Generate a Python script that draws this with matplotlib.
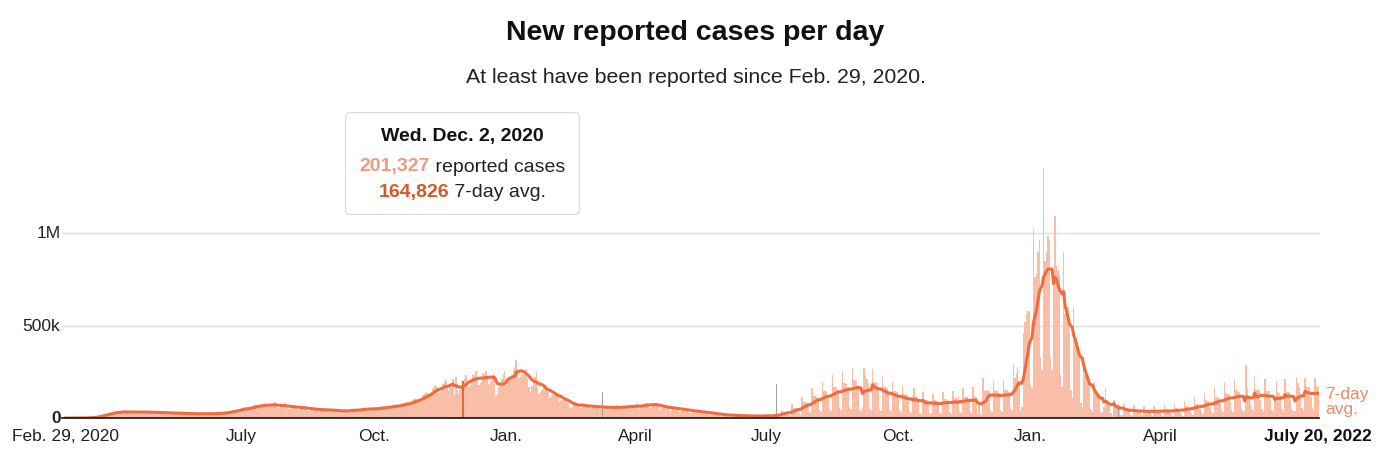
import matplotlib.pyplot as plt
import matplotlib.dates as mdates
from matplotlib.patches import FancyBboxPatch
import numpy as np
import pandas as pd

plt.rcParams['font.family'] = ['Liberation Sans', 'DejaVu Sans']

start_date = '2020-02-29'
# new reported cases per day, in thousands, one row per week (Sat .. Fri)
cases_by_week = [
    [0.0, 0.0, 0.0, 0.0, 0.0, 0.1, 0.1],
    [0.1, 0.1, 0.2, 0.3, 0.4, 0.4, 0.6],
    [1.0, 1.1, 1.6, 2.2, 3.0, 4.0, 4.6],
    [6, 8, 9.5, 10.5, 13, 17, 20],
    [22, 19, 21, 26, 29, 31, 34],
    [33, 26, 28, 33, 36, 37, 38],
    [32, 26, 26, 30, 35, 37, 38],
    [31, 27, 25, 31, 34, 38, 38],
    [31, 25, 25, 29, 34, 36, 37],
    [29, 23, 23, 28, 32, 33, 35],
    [27, 22, 22, 26, 30, 31, 31],
    [25, 20, 20, 24, 27, 29, 30],
    [24, 18, 18, 22, 25, 27, 27],
    [23, 18, 19, 22, 25, 27, 27],
    [23, 18, 18, 22, 26, 27, 27],
    [26, 21, 21, 25, 28, 30, 31],
    [33, 27, 29, 34, 39, 41, 42],
    [45, 38, 40, 46, 53, 56, 58],
    [50, 46, 48, 56, 63, 68, 75],
    [68, 54, 55, 64, 75, 78, 82],
    [72, 57, 57, 67, 78, 82, 84],
    [68, 53, 54, 64, 74, 77, 79],
    [60, 48, 48, 57, 66, 69, 72],
    [56, 44, 44, 52, 60, 63, 66],
    [48, 38, 39, 46, 53, 55, 57],
    [44, 35, 35, 42, 48, 51, 53],
    [42, 34, 34, 40, 46, 48, 50],
    [41, 31, 26, 32, 40, 45, 51],
    [41, 33, 33, 39, 45, 47, 49],
    [47, 38, 38, 45, 52, 54, 55],
    [49, 39, 39, 47, 54, 56, 59],
    [55, 44, 44, 52, 61, 63, 66],
    [62, 50, 50, 59, 68, 71, 74],
    [72, 58, 58, 68, 79, 83, 86],
    [86, 70, 70, 84, 97, 102, 107],
    [105, 88, 90, 106, 124, 130, 141],
    [135, 112, 118, 138, 160, 175, 177],
    [168, 135, 140, 160, 185, 196, 206],
    [180, 148, 165, 185, 210, 125, 219],
    [150, 128, 152, 178.455, 201.327, 215, 230],
    [205, 170, 180, 210, 235, 230, 254],
    [215, 180, 190, 200, 245, 240, 256],
    [225, 185, 195, 200, 235, 240, 120],
    [130, 165, 185, 210, 240, 255, 180],
    [215, 205, 210, 235, 262, 273, 315],
    [260, 215, 220, 235, 240, 245, 265],
    [210, 170, 140, 175, 200, 220, 250],
    [170, 130, 140, 150, 170, 170, 176],
    [140, 110, 115, 125, 135, 140, 131],
    [108, 88, 90, 95, 102, 108, 109],
    [80, 60, 55, 60, 75, 85, 89],
    [70, 52, 55, 65, 72, 72, 76],
    [65, 50, 52, 60, 66, 68, 73],
    [62, 45, 48, 57, 62, 63, 69],
    [60, 45, 47, 55, 62, 62, 68],
    [62, 46, 48, 58, 65, 66, 68],
    [68, 50, 52, 62, 70, 72, 74],
    [72, 45, 58, 70, 78, 80, 80],
    [75, 55, 60, 72, 80, 80, 82],
    [65, 45, 50, 60, 65, 68, 67],
    [55, 40, 43, 52, 58, 58, 58],
    [46, 33, 37, 44, 48, 50, 50],
    [40, 28, 30, 37, 40, 42, 42],
    [32, 22, 25, 30, 34, 34, 33],
    [25, 18, 20, 24, 27, 27, 27],
    [18, 10, 8, 18, 22, 22, 21],
    [12, 8, 12, 15, 17, 17, 17],
    [10, 6, 11, 13, 14, 14, 16],
    [8, 5, 12, 12, 13, 13, 14],
    [6, 4, 16, 14, 15, 14, 15],
    [4, 3, 6, 28, 22, 22, 20],
    [10, 6, 45, 35, 35, 32, 33],
    [15, 10, 75, 55, 55, 52, 53],
    [25, 18, 115, 85, 85, 82, 80],
    [35, 28, 160, 120, 120, 115, 108],
    [42, 35, 195, 145, 145, 140, 124],
    [50, 40, 230, 170, 170, 170, 150],
    [55, 45, 255, 190, 190, 185, 165],
    [58, 48, 270, 205, 200, 200, 174],
    [50, 40, 60, 270, 230, 210, 190],
    [55, 42, 265, 195, 190, 190, 169],
    [48, 38, 225, 165, 165, 160, 144],
    [42, 32, 195, 145, 145, 140, 127],
    [36, 28, 172, 128, 128, 125, 111],
    [33, 25, 120, 160, 120, 115, 85],
    [28, 22, 138, 100, 100, 98, 88],
    [27, 20, 130, 95, 95, 92, 87],
    [29, 22, 140, 103, 102, 100, 92],
    [30, 23, 148, 110, 108, 80, 117],
    [33, 25, 160, 116, 115, 112, 104],
    [35, 26, 165, 120, 115, 25, 74],
    [20, 15, 215, 150, 145, 150, 145],
    [42, 33, 200, 150, 145, 150, 134],
    [43, 34, 205, 155, 150, 150, 138],
    [60, 45, 290, 215, 245, 275, 200],
    [40, 60, 460, 520, 560, 580, 580],
    [180, 160, 1020, 760, 780, 900, 960],
    [330, 260, 1350, 850, 900, 985, 960],
    [330, 260, 800, 1090, 820, 800, 780],
    [230, 170, 900, 560, 580, 600, 530],
    [150, 110, 600, 420, 380, 380, 340],
    [80, 60, 330, 230, 210, 200, 185],
    [50, 35, 195, 135, 125, 120, 110],
    [35, 25, 60, 160, 100, 80, 65],
    [25, 18, 100, 68, 65, 62, 47],
    [18, 14, 75, 52, 50, 48, 37],
    [16, 12, 68, 48, 45, 44, 33],
    [15, 11, 65, 45, 43, 42, 31],
    [15, 11, 67, 46, 45, 44, 31],
    [16, 12, 68, 47, 46, 45, 32],
    [17, 13, 75, 52, 52, 50, 35],
    [20, 12, 90, 65, 62, 60, 41],
    [25, 18, 112, 78, 76, 74, 51],
    [30, 22, 135, 95, 92, 90, 61],
    [37, 27, 165, 115, 113, 110, 77],
    [43, 32, 195, 135, 132, 130, 89],
    [47, 35, 210, 150, 145, 142, 97],
    [45, 30, 40, 285, 160, 120, 76],
    [48, 36, 220, 150, 150, 150, 100],
    [46, 35, 212, 147, 145, 145, 96],
    [42, 32, 90, 200, 140, 135, 117],
    [46, 35, 210, 145, 143, 140, 100],
    [45, 35, 40, 220, 190, 160, 136],
    [52, 40, 215, 175, 170, 165, 114],
    [52, 40, 215, 180, 170],
]
# days with backlogged reports, shown in grey
backlog_dates = ['2021-03-09', '2021-07-08', '2022-03-03']
backlog_k = [140, 185, 75]
highlight_date = '2020-12-02'

tick_dates = ['2020-07-01', '2020-10-01', '2021-01-01', '2021-04-01',
              '2021-07-01', '2021-10-01', '2022-01-01', '2022-04-01']
tick_labels = ['July', 'Oct.', 'Jan.', 'April', 'July', 'Oct.', 'Jan.', 'April']
first_label = 'Feb. 29, 2020'
last_label = 'July 20, 2022'
y_ticks = [0, 500000, 1000000]
y_labels = ['0', '500k', '1M']

cases = np.array([v for week in cases_by_week for v in week]) * 1000
days = pd.date_range(start_date, periods=len(cases), freq='D')
avg = pd.Series(cases).rolling(7, min_periods=1).mean().values
x = mdates.date2num(days)

bar_color = '#f9bea7'
line_color = '#ee6c3f'

W, H = 1384, 452
fig = plt.figure(figsize=(W / 100, H / 100), dpi=100)
ax = fig.add_axes([64.3 / W, (H - 419) / H, 1254.4 / W, 259 / H])
ax.set_xlim(x[0] - 0.5, x[-1] + 0.5)
ax.set_ylim(0, 1400000)
ax.axis('off')

for v in y_ticks[1:]:
    ax.axhline(v, xmin=-0.002, xmax=1.0, color='#dedede', lw=1, zorder=0, clip_on=False)

ax.bar(x, cases, width=1.0, color=bar_color, linewidth=0, zorder=1)

bx = mdates.date2num(pd.to_datetime(backlog_dates))
ax.bar(bx, np.array(backlog_k) * 1000, width=0.9, color='#a0a0a0', linewidth=0, zorder=2)

hi = days.get_loc(pd.Timestamp(highlight_date))
ax.bar(x[hi], cases[hi], width=1.0, color='#e4683a', linewidth=0, zorder=2)

ax.plot(x, avg, color=line_color, lw=2.2, zorder=3, solid_capstyle='round')
ax.axhline(0, xmin=-0.002, xmax=1.0, color='#111111', lw=1.2, zorder=4, clip_on=False)

# y labels
ytr = ax.get_yaxis_transform()
for v, lab in zip(y_ticks, y_labels):
    ax.text(-0.003, v, lab, transform=ytr, ha='right', va='center', fontsize=12.5,
            color='#222222', fontweight='bold' if v == 0 else 'normal')

# x labels
xtr = ax.get_xaxis_transform()
for d, lab in zip(tick_dates, tick_labels):
    ax.text(mdates.date2num(pd.Timestamp(d)), -0.068, lab, transform=xtr,
            ha='center', va='center', fontsize=12.5, color='#222222')
ax.text(x[0], -0.068, first_label, transform=xtr, ha='center', va='center',
        fontsize=12.5, color='#222222')
ax.text(x[-1], -0.068, last_label, transform=xtr, ha='center', va='center',
        fontsize=12.5, color='#111111', fontweight='bold')

ax.text(1.005, 92000, '7-day\navg.', transform=ytr, ha='left', va='center',
        fontsize=12.5, color='#ee8a63', linespacing=0.95)

fig.text(695.5 / W, 1 - 33 / H, 'New reported cases per day', ha='center', va='center',
         fontsize=20.5, fontweight='bold', color='#111111')
fig.text(695.5 / W, 1 - 78 / H, 'At least have been reported since Feb. 29, 2020.',
         ha='center', va='center', fontsize=15.3, color='#222222')

# tooltip
tw, th = 235, 103
tip = fig.add_axes([345 / W, (H - 216) / H, tw / W, th / H])
tip.set_xlim(0, tw)
tip.set_ylim(0, th)
tip.axis('off')
tip.add_patch(FancyBboxPatch((0.5, 0.5), tw - 1, th - 1, boxstyle='round,pad=0,rounding_size=5',
                             facecolor='white', edgecolor='#dddddd', lw=1))
tip.text(tw / 2, th - 23, days[hi].strftime('%a. %b. ') + str(days[hi].day) + ', ' + str(days[hi].year),
         ha='center', va='center', fontsize=14, fontweight='bold', color='#111111')

renderer = fig.canvas.get_renderer()


def two_part(y, num, rest, num_color):
    t1 = tip.text(0, y, num, ha='left', va='center', fontsize=14, fontweight='bold', color=num_color)
    t2 = tip.text(0, y, rest, ha='left', va='center', fontsize=14, color='#222222')
    w1 = t1.get_window_extent(renderer).width
    w2 = t2.get_window_extent(renderer).width
    x0 = (tw - (w1 + w2)) / 2
    t1.set_x(x0)
    t2.set_x(x0 + w1)


two_part(th - 54, f'{int(round(cases[hi])):,}', ' reported cases', '#eb9c80')
two_part(th - 80, f'{int(round(avg[hi])):,}', ' 7-day avg.', '#d4582c')

fig.savefig('out.png', dpi=100)
